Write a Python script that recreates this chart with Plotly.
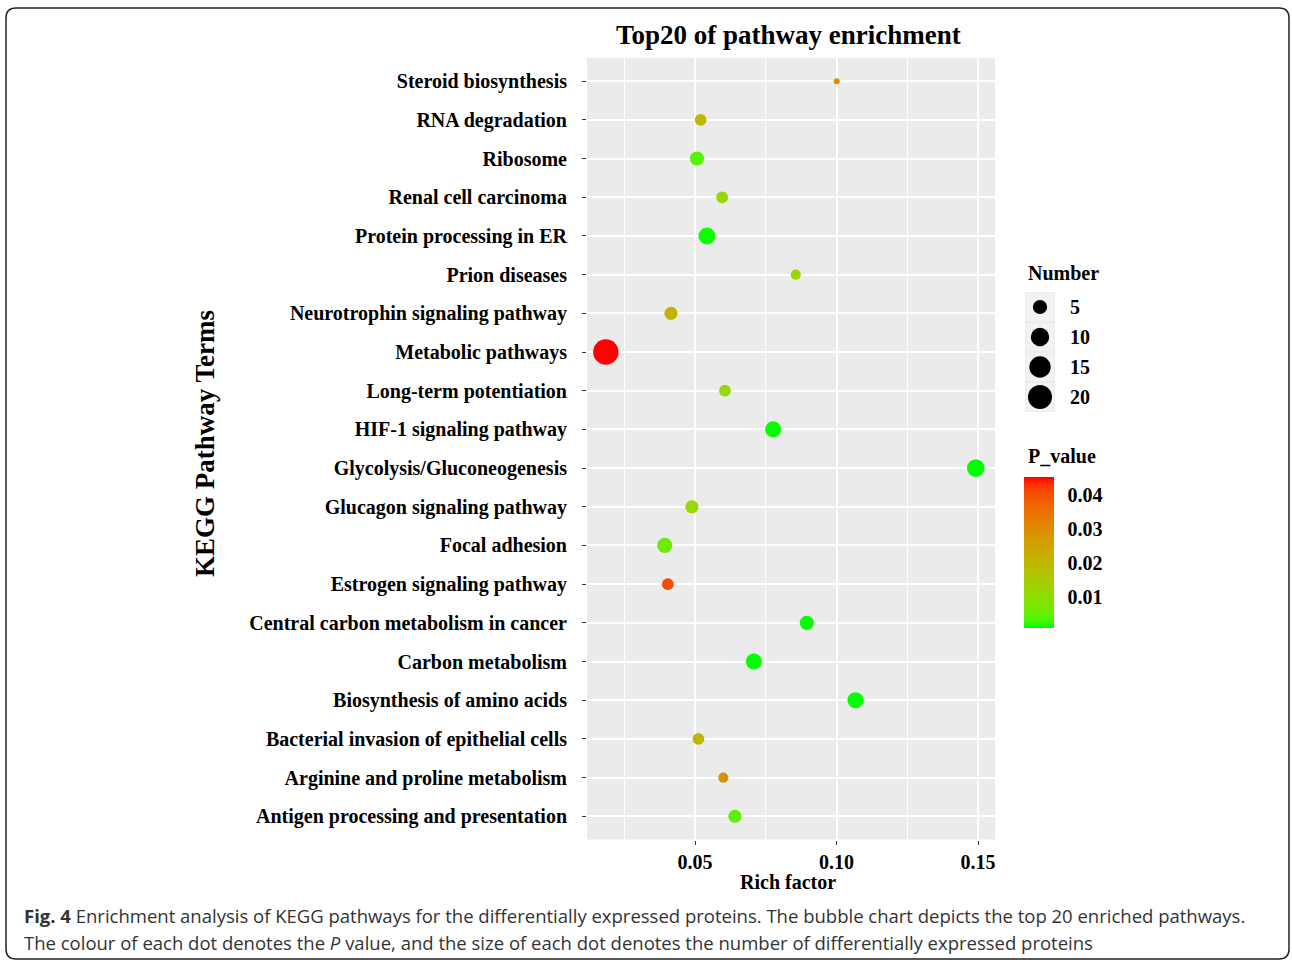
import math
import plotly.graph_objects as go

# ---------------- data (top to bottom as shown) ----------------
pathways = [
    "Steroid biosynthesis", "RNA degradation", "Ribosome", "Renal cell carcinoma",
    "Protein processing in ER", "Prion diseases", "Neurotrophin signaling pathway",
    "Metabolic pathways", "Long-term potentiation", "HIF-1 signaling pathway",
    "Glycolysis/Gluconeogenesis", "Glucagon signaling pathway", "Focal adhesion",
    "Estrogen signaling pathway", "Central carbon metabolism in cancer",
    "Carbon metabolism", "Biosynthesis of amino acids",
    "Bacterial invasion of epithelial cells", "Arginine and proline metabolism",
    "Antigen processing and presentation",
]
rich_factor = [0.1001, 0.0520, 0.0507, 0.0596, 0.0542, 0.0856, 0.0415, 0.0185,
               0.0606, 0.0776, 0.1492, 0.0489, 0.0393, 0.0404, 0.0895, 0.0708,
               0.1067, 0.0512, 0.0600, 0.0641]
number = [1, 3, 5, 3, 8, 2, 4, 23, 3, 7, 9, 4, 6, 3, 5, 7, 7, 3, 2, 4]
p_value = [0.0297, 0.0195, 0.0039, 0.0119, 0.0012, 0.0119, 0.0208, 0.0453,
           0.0119, 0.0010, 0.0008, 0.0119, 0.0061, 0.0409, 0.0009, 0.0009,
           0.0010, 0.0200, 0.0297, 0.0044]

size_legend_values = [5, 10, 15, 20]
p_ticks = [0.01, 0.02, 0.03, 0.04]
x_ticks = [0.05, 0.10, 0.15]

W, H = 1292, 962


def px(x):
    return x / W


def py(y):
    return 1 - y / H


# ggplot-like size scale (area): size range 1..6 mapped to pixel diameter
n_min, n_max = min(number), max(number)


def diam(n):
    s = 1 + 5 * math.sqrt(max(n - n_min, 0) / (n_max - n_min))
    return 2.1 + 3.87 * s


# ggplot-like green -> red gradient interpolated in CIELAB
def srgb_to_lab(rgb):
    def lin(c):
        c = c / 255
        return c / 12.92 if c <= 0.04045 else ((c + 0.055) / 1.055) ** 2.4
    r, g, b = (lin(c) for c in rgb)
    X = 0.4124 * r + 0.3576 * g + 0.1805 * b
    Y = 0.2126 * r + 0.7152 * g + 0.0722 * b
    Z = 0.0193 * r + 0.1192 * g + 0.9505 * b
    Xn, Yn, Zn = 0.95047, 1.0, 1.08883

    def f(t):
        return t ** (1 / 3) if t > 0.008856 else 7.787 * t + 16 / 116
    fx, fy, fz = f(X / Xn), f(Y / Yn), f(Z / Zn)
    return (116 * fy - 16, 500 * (fx - fy), 200 * (fy - fz))


def lab_to_srgb(lab):
    L, a, b = lab
    fy = (L + 16) / 116
    fx = fy + a / 500
    fz = fy - b / 200

    def finv(t):
        return t ** 3 if t ** 3 > 0.008856 else (t - 16 / 116) / 7.787
    X, Y, Z = 0.95047 * finv(fx), finv(fy), 1.08883 * finv(fz)
    r = 3.2406 * X - 1.5372 * Y - 0.4986 * Z
    g = -0.9689 * X + 1.8758 * Y + 0.0415 * Z
    bb = 0.0557 * X - 0.2040 * Y + 1.0570 * Z

    def gam(c):
        c = min(max(c, 0), 1)
        return 12.92 * c if c <= 0.0031308 else 1.055 * c ** (1 / 2.4) - 0.055
    return tuple(int(round(gam(c) * 255)) for c in (r, g, bb))


lab_lo = srgb_to_lab((0, 255, 0))
lab_hi = srgb_to_lab((255, 0, 0))
colorscale = []
for i in range(21):
    t = i / 20
    lab = tuple(lo + (hi - lo) * t for lo, hi in zip(lab_lo, lab_hi))
    colorscale.append([t, "rgb(%d,%d,%d)" % lab_to_srgb(lab)])

SERIF = "Liberation Serif"
LBL = 20

fig = go.Figure()

fig.add_trace(go.Scatter(
    x=rich_factor, y=pathways, mode="markers",
    marker=dict(
        size=[diam(n) for n in number],
        color=p_value, colorscale=colorscale,
        cmin=min(p_value), cmax=max(p_value),
        line=dict(width=0), opacity=1,
        showscale=True,
        colorbar=dict(
            x=px(1024), xanchor="left", xpad=0,
            y=py(552.5), yanchor="middle", ypad=0,
            len=151, lenmode="pixels", thickness=30, thicknessmode="pixels",
            outlinewidth=0,
            tickvals=p_ticks, ticktext=["%.2f" % v for v in p_ticks],
            ticks="outside", ticklen=10, tickcolor="white", tickwidth=1,
            tickfont=dict(family=SERIF, size=LBL, color="black", weight="bold"),
        ),
    ),
    showlegend=False, hoverinfo="x+y",
))

# size legend (keys + dots) on its own small axis pair
fig.add_trace(go.Scatter(
    x=[0] * len(size_legend_values), y=list(range(len(size_legend_values))),
    mode="markers", xaxis="x2", yaxis="y2",
    marker=dict(symbol="square", size=28, color="#F2F2F2", line=dict(width=0), opacity=1),
    showlegend=False, hoverinfo="skip",
))
fig.add_trace(go.Scatter(
    x=[0] * len(size_legend_values), y=list(range(len(size_legend_values))),
    mode="markers", xaxis="x2", yaxis="y2",
    marker=dict(size=[diam(v) for v in size_legend_values], color="black",
                line=dict(width=0), opacity=1),
    showlegend=False, hoverinfo="skip",
))

annotations = []
for i, v in enumerate(size_legend_values):
    annotations.append(dict(
        x=px(1068), xref="paper", xanchor="left",
        y=i, yref="y2", yanchor="middle",
        text=str(v), showarrow=False,
        font=dict(family=SERIF, size=LBL, color="black", weight="bold"),
    ))

annotations += [
    dict(x=px(789), y=py(35), xref="paper", yref="paper", text="Top20 of pathway enrichment",
         showarrow=False, xanchor="center", yanchor="middle",
         font=dict(family=SERIF, size=27, color="black", weight="bold")),
    dict(x=px(788), y=py(882), xref="paper", yref="paper", text="Rich factor",
         showarrow=False, xanchor="center", yanchor="middle",
         font=dict(family=SERIF, size=20, color="black", weight="bold")),
    dict(x=px(205), y=py(444), xref="paper", yref="paper", text="KEGG Pathway Terms",
         showarrow=False, xanchor="center", yanchor="middle", textangle=-90,
         font=dict(family=SERIF, size=27, color="black", weight="bold")),
    dict(x=px(1026), y=py(273), xref="paper", yref="paper", text="Number",
         showarrow=False, xanchor="left", yanchor="middle",
         font=dict(family=SERIF, size=LBL, color="black", weight="bold")),
    dict(x=px(1026), y=py(456), xref="paper", yref="paper", text="P_value",
         showarrow=False, xanchor="left", yanchor="middle",
         font=dict(family=SERIF, size=LBL, color="black", weight="bold")),
    dict(x=px(22), y=py(915), xref="paper", yref="paper",
         text="<b>Fig. 4</b> Enrichment analysis of KEGG pathways for the differentially expressed "
              "proteins. The bubble chart depicts the top 20 enriched pathways.",
         showarrow=False, xanchor="left", yanchor="middle",
         font=dict(family="Open Sans", size=18.5, color="#333333")),
    dict(x=px(22), y=py(942), xref="paper", yref="paper",
         text="The colour of each dot denotes the <i>P</i> value, and the size of each dot "
              "denotes the number of differentially expressed proteins",
         showarrow=False, xanchor="left", yanchor="middle",
         font=dict(family="Open Sans", size=18.5, color="#333333")),
]

# rounded page border
x0, y0, x1, y1, r = 6, 8, 1289, 959, 10
path = (f"M {px(x0 + r)},{py(y0)} L {px(x1 - r)},{py(y0)} Q {px(x1)},{py(y0)} {px(x1)},{py(y0 + r)} "
        f"L {px(x1)},{py(y1 - r)} Q {px(x1)},{py(y1)} {px(x1 - r)},{py(y1)} "
        f"L {px(x0 + r)},{py(y1)} Q {px(x0)},{py(y1)} {px(x0)},{py(y1 - r)} "
        f"L {px(x0)},{py(y0 + r)} Q {px(x0)},{py(y0)} {px(x0 + r)},{py(y0)} Z")

fig.update_layout(
    width=W, height=H, autosize=False,
    margin=dict(l=0, r=0, t=0, b=0),
    paper_bgcolor="white", plot_bgcolor="#EBEBEB",
    xaxis=dict(
        domain=[px(587), px(995)], range=[0.01184, 0.1560],
        tickvals=x_ticks, ticktext=["%.2f" % v for v in x_ticks],
        ticks="outside", ticklen=4, tickwidth=1.1, tickcolor="#333333",
        tickfont=dict(family=SERIF, size=LBL, color="black", weight="bold"),
        showgrid=True, gridcolor="white", gridwidth=1.5, zeroline=False, showline=False,
        minor=dict(dtick=0.025, tick0=0, showgrid=True, gridcolor="white", gridwidth=0.8),
    ),
    yaxis=dict(
        domain=[py(839.5), py(58)], type="category",
        categoryorder="array", categoryarray=pathways[::-1],
        range=[-0.6, len(pathways) - 0.4],
        ticks="outside", ticklen=4, tickwidth=1.1, tickcolor="#333333",
        ticklabelstandoff=11,
        tickfont=dict(family=SERIF, size=LBL, color="black", weight="bold"),
        showgrid=True, gridcolor="white", gridwidth=1.5, zeroline=False, showline=False,
    ),
    xaxis2=dict(domain=[px(1025), px(1055)], range=[-0.5, 0.5], visible=False, anchor="y2"),
    yaxis2=dict(domain=[py(412), py(292)], range=[3.5, -0.5], visible=False, anchor="x2"),
    annotations=annotations,
    shapes=[dict(type="path", path=path, xref="paper", yref="paper",
                 line=dict(color="#222222", width=1.5), fillcolor="rgba(0,0,0,0)", layer="above")],
)

fig.write_html("out.html", config={"displayModeBar": False},
               post_script="document.body.style.margin='0px';")
